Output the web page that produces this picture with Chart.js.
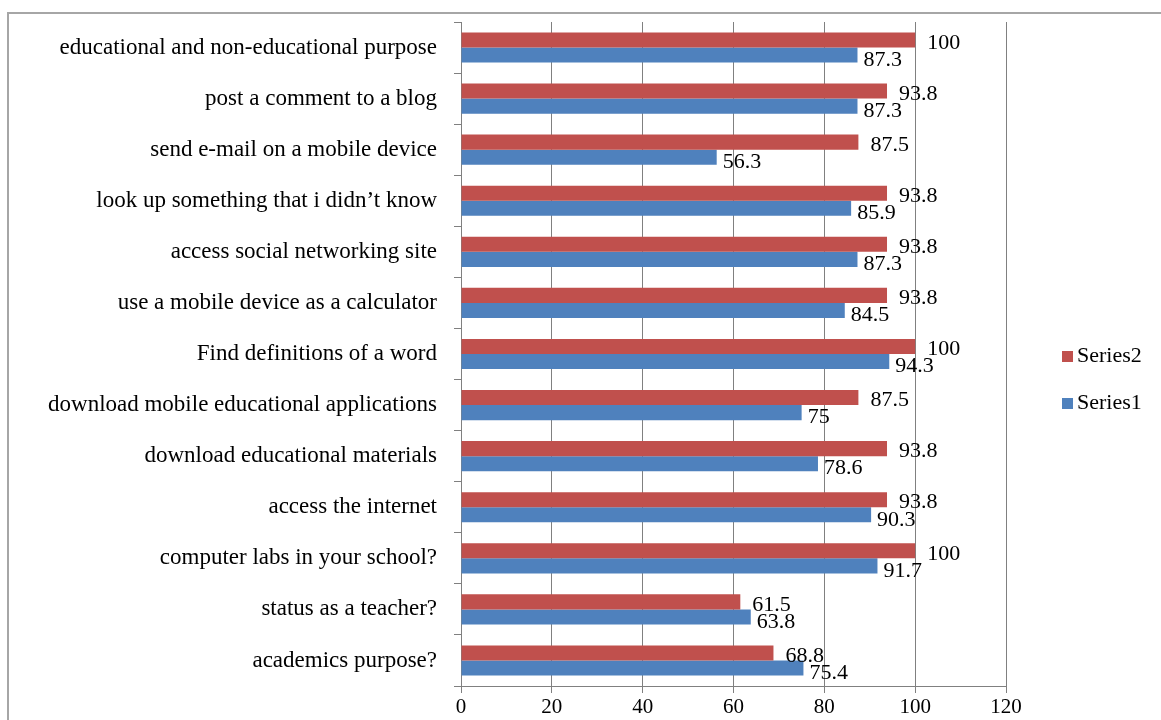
<!DOCTYPE html>
<html>
<head>
<meta charset="utf-8">
<script src="https://cdn.jsdelivr.net/npm/chart.js@4/dist/chart.umd.min.js"></script>
<style>
    html, body { margin: 0; padding: 0; background: #fff; overflow: hidden; }
    #moldura { position: absolute; left: 7px; top: 12px; width: 1300px; height: 900px; border-top: 2px solid #a6a6a6; border-left: 2px solid #a6a6a6; }
    #grafico { position: absolute; left: 0; top: 0; }
</style>
</head>
<body>
<div id="moldura"></div>
<canvas id="grafico" width="1161" height="720"></canvas>
<script>
const categorias = [
    "educational and non-educational purpose",
    "post a comment to a blog",
    "send e-mail on a mobile device",
    "look up something that i didn’t know",
    "access social networking site",
    "use a mobile device as a calculator",
    "Find definitions of a word",
    "download mobile educational applications",
    "download educational materials",
    "access the internet",
    "computer labs in your school?",
    "status as a teacher?",
    "academics purpose?"
];

const serie2 = [100, 93.8, 87.5, 93.8, 93.8, 93.8, 100, 87.5, 93.8, 93.8, 100, 61.5, 68.8];
const serie1 = [87.3, 87.3, 56.3, 85.9, 87.3, 84.5, 94.3, 75, 78.6, 90.3, 91.7, 63.8, 75.4];

const ticksX = [0, 20, 40, 60, 80, 100, 120];

const fonte = "'Liberation Serif', 'Times New Roman', serif";

// rótulos de valor ao lado das barras
const rotulos = {
    id: "rotulos",
    afterDatasetsDraw(chart) {
        const ctx = chart.ctx;
        ctx.save();
        ctx.font = "22px " + fonte;
        ctx.fillStyle = "#000";
        ctx.textBaseline = "middle";
        ctx.textAlign = "left";
        const desloc = [{ dx: 12, dy: 3 }, { dx: 6, dy: 5 }];
        chart.data.datasets.forEach((ds, i) => {
            const meta = chart.getDatasetMeta(i);
            meta.data.forEach((barra, j) => {
                ctx.fillText(String(ds.data[j]), barra.x + desloc[i].dx, barra.y + desloc[i].dy);
            });
        });
        ctx.restore();
    }
};

// legenda à direita
const legenda = {
    id: "legenda",
    afterDraw(chart) {
        const ctx = chart.ctx;
        ctx.save();
        ctx.font = "22px " + fonte;
        ctx.textBaseline = "middle";
        [0, 1].forEach((i, k) => {
            const ds = chart.data.datasets[i];
            const y = 356 + k * 47;
            ctx.fillStyle = ds.backgroundColor;
            ctx.fillRect(1062, y - 5, 11, 11);
            ctx.fillStyle = "#000";
            ctx.fillText(ds.label, 1077, y);
        });
        ctx.restore();
    }
};

new Chart(document.getElementById("grafico"), {
    type: "bar",
    data: {
        labels: categorias,
        datasets: [
            { label: "Series2", data: serie2, backgroundColor: "#C0504D", barPercentage: 1, categoryPercentage: 0.59 },
            { label: "Series1", data: serie1, backgroundColor: "#4F81BD", barPercentage: 1, categoryPercentage: 0.59 }
        ]
    },
    options: {
        indexAxis: "y",
        responsive: false,
        animation: false,
        devicePixelRatio: 1,
        layout: { padding: { top: 22, right: 155, left: 0, bottom: 0 } },
        plugins: {
            legend: { display: false },
            tooltip: { enabled: false }
        },
        scales: {
            x: {
                min: 0,
                max: 120,
                afterFit: (s) => { s.height = 34; s.paddingLeft = 0; s.paddingRight = 0; },
                afterBuildTicks: (s) => { s.ticks = ticksX.map(v => ({ value: v })); },
                grid: { color: "#808080", lineWidth: 1, tickLength: 7, tickColor: "#808080" },
                border: { color: "#808080", width: 1 },
                ticks: { color: "#000", font: { family: fonte, size: 21 }, padding: 2 }
            },
            y: {
                afterFit: (s) => { s.width = 461; s.paddingTop = 0; s.paddingBottom = 0; },
                grid: { offset: true, drawOnChartArea: false, tickLength: 7, tickColor: "#808080" },
                border: { color: "#808080", width: 1 },
                ticks: { color: "#000", font: { family: fonte, size: 23 }, padding: 17, autoSkip: false }
            }
        }
    },
    plugins: [rotulos, legenda]
});
</script>
</body>
</html>
